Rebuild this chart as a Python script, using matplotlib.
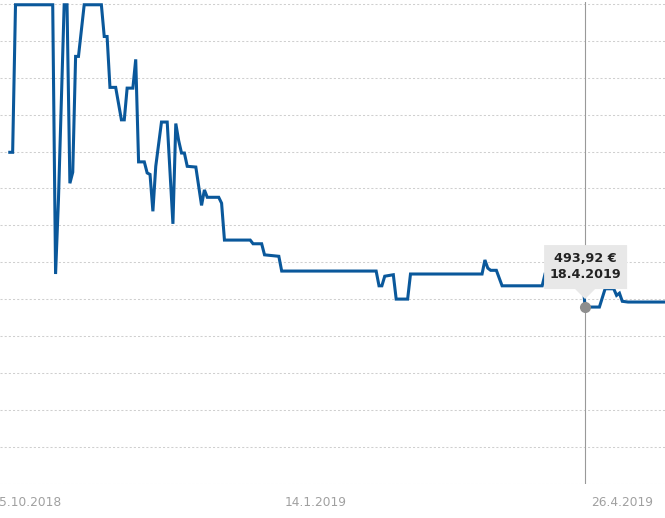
import numpy as np
import pandas as pd
import matplotlib
matplotlib.use('Agg')
import matplotlib.pyplot as plt
import matplotlib.dates as mdates
import matplotlib.transforms as mtransforms
from matplotlib.patches import Polygon

# price history (breakpoints, joined by straight lines)
dates = ['2018-09-29', '2018-09-30', '2018-10-01', '2018-10-14', '2018-10-15',
         '2018-10-16', '2018-10-18', '2018-10-19', '2018-10-20', '2018-10-21',
         '2018-10-22', '2018-10-23', '2018-10-25', '2018-10-31', '2018-11-01',
         '2018-11-02', '2018-11-03', '2018-11-05', '2018-11-07', '2018-11-08',
         '2018-11-09', '2018-11-11', '2018-11-12', '2018-11-13', '2018-11-15',
         '2018-11-16', '2018-11-17', '2018-11-18', '2018-11-19', '2018-11-21',
         '2018-11-23', '2018-11-25', '2018-11-26', '2018-11-27', '2018-11-28',
         '2018-11-29', '2018-11-30', '2018-12-03', '2018-12-05', '2018-12-06',
         '2018-12-07', '2018-12-11', '2018-12-12', '2018-12-13', '2018-12-22',
         '2018-12-23', '2018-12-26', '2018-12-27', '2019-01-01', '2019-01-02',
         '2019-02-04', '2019-02-05', '2019-02-06', '2019-02-07', '2019-02-10',
         '2019-02-11', '2019-02-15', '2019-02-16', '2019-03-13', '2019-03-14',
         '2019-03-15', '2019-03-16', '2019-03-18', '2019-03-20', '2019-04-03',
         '2019-04-04', '2019-04-17', '2019-04-18', '2019-04-23', '2019-04-25',
         '2019-04-28', '2019-04-29', '2019-04-30', '2019-05-01', '2019-05-03',
         '2019-05-16']
prices = [514.9, 514.9, 534.9, 534.9, 498.4,
          508.4, 534.9, 534.9, 510.7, 512.2,
          527.9, 527.9, 534.9, 534.9, 530.6,
          530.6, 523.7, 523.7, 519.3, 519.3,
          523.6, 523.6, 527.5, 513.6, 513.6,
          512.1, 511.9, 506.9, 513.0, 519.0,
          519.0, 505.2, 518.8, 516.5, 514.8,
          514.8, 513.0, 512.9, 507.7, 509.8,
          508.8, 508.8, 508.0, 503.0, 503.0,
          502.5, 502.5, 501.0, 500.8, 498.8,
          498.8, 496.8, 496.8, 498.1, 498.3,
          495.0, 495.0, 498.4, 498.4, 500.3,
          499.2, 498.9, 498.9, 496.8, 496.8,
          498.4, 498.4, 493.92, 493.92, 496.4,
          496.4, 495.5, 495.8, 494.7, 494.6,
          494.6]

tick_dates = ['2018-10-05', '2019-01-14', '2019-04-26']
tick_labels = ['5.10.2018', '14.1.2019', '26.4.2019']

hover_date = '2019-04-18'
hover_price = 493.92
hover_text = ['493,92 €', '18.4.2019']

x = pd.to_datetime(dates)
hx = mdates.date2num(pd.Timestamp(hover_date))

fig = plt.figure(figsize=(6.65, 5.18), dpi=100)
ax = fig.add_axes([0, 0.0666, 1, 0.9299])

ax.plot(x, prices, color='#0a589b', lw=2.2, solid_joinstyle='miter', zorder=3)

ax.set_ylim(470, 535.3)
ax.set_xlim(pd.Timestamp('2018-09-25 14:00'), pd.Timestamp('2019-05-15 22:00'))

ax.set_yticks(np.arange(470, 536, 5))
ax.yaxis.grid(True, color='#cfcfcf', linestyle=(0, (2, 2)), lw=0.75)
ax.tick_params(axis='y', left=False, labelleft=False)
for s in ax.spines.values():
    s.set_visible(False)

ax.set_xticks(pd.to_datetime(tick_dates))
ax.set_xticklabels(tick_labels)
ax.tick_params(axis='x', length=0, pad=8.8, labelsize=8.8, labelcolor='#a0a0a0')
# the first and last labels sit a little to the right in the original
shifts = [3, 0, 14]
for lab, dx in zip(ax.get_xticklabels(), shifts):
    lab.set_transform(lab.get_transform() +
                      mtransforms.Affine2D().translate(dx, 0))

# hover cursor, point and tooltip
ax.axvline(hx, color='#999999', lw=0.8, zorder=2)
ax.plot([hx], [hover_price], 'o', ms=8, color='#8e8e8e', mec='none', zorder=4)

tip = mtransforms.IdentityTransform() + \
    mtransforms.ScaledTranslation(hx, hover_price, ax.transData)
box = Polygon([(-41, 18), (-10, 18), (0, 8), (10, 18), (42, 18), (42, 62), (-41, 62)],
              closed=True, facecolor='#e8e8e8', edgecolor='none',
              transform=tip, clip_on=False, zorder=5)
ax.add_patch(box)
for txt, dy in zip(hover_text, [49, 33]):
    ax.annotate(txt, xy=(hx, hover_price), xytext=(0, dy),
                textcoords='offset pixels', ha='center', va='center',
                fontsize=9.2, fontweight='bold', color='#222222', zorder=6)

fig.savefig('out.png', dpi=100)
